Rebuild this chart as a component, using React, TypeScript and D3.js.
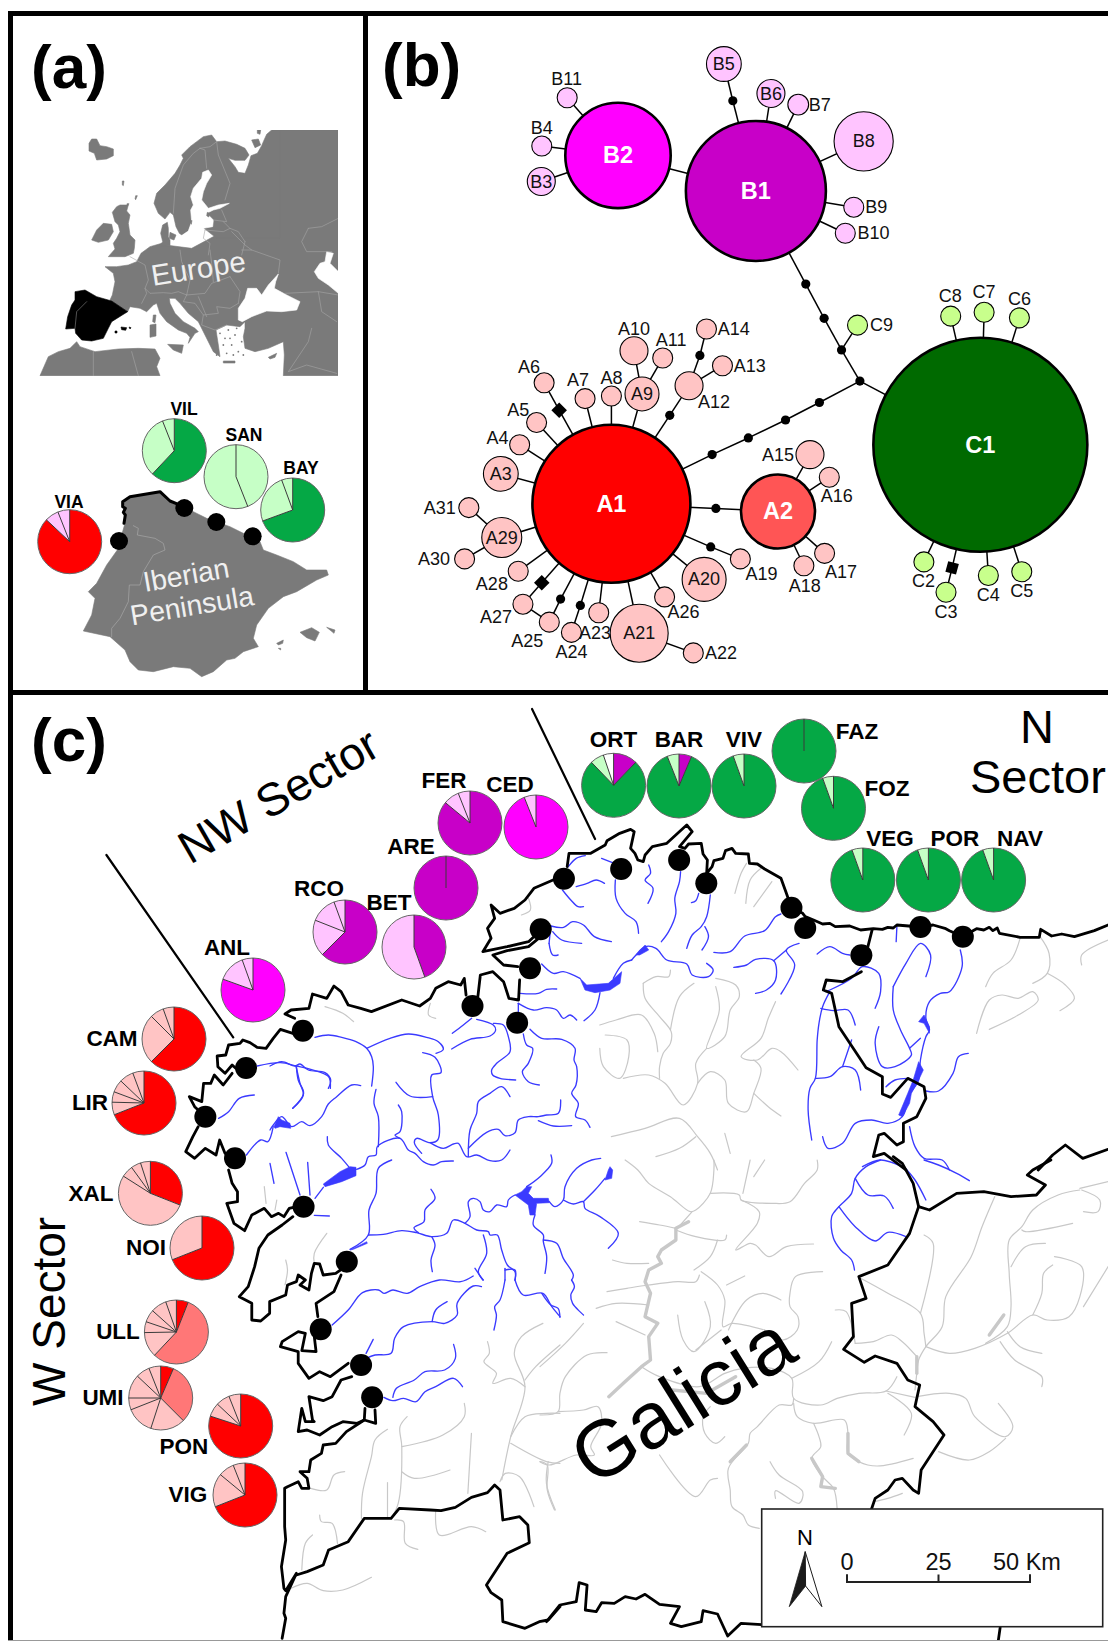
import React from "react";
import * as d3 from "d3";

const W = 1108, H = 1641;
const FONT = "'Liberation Sans', Arial, Helvetica, sans-serif";

// digitising sheets: each list of outline numbers below was read on one sheet
type Sheet = { x: d3.ScaleLinear<number, number>; y: d3.ScaleLinear<number, number> };
const sheet = (x0: number, y0: number, sx: number, sy: number): Sheet => ({
  x: d3.scaleLinear().domain([0, 1000]).range([x0, x0 + 1000 / sx]),
  y: d3.scaleLinear().domain([0, 1000]).range([y0, y0 + 1000 / sy]),
});
const sE = sheet(35, 125, 3, 3), sI = sheet(30, 395, 3, 3), sM = sheet(270, 960, 3, 3);
const sA = sheet(85, 125, 3, 3), sB = sheet(150, 125, 3, 3), sC = sheet(130, 250, 3, 3);
const sNW = sheet(0, 690, 2.8, 3), sNE = sheet(540, 690, 2.76, 3);
const sSW = sheet(0, 1160, 2.8, 3), sSE = sheet(540, 1160, 2.76, 3);
const sNet = sheet(370, 20, 2.125, 2.34);

const pairs = (a: number[]) => d3.range(0, a.length - 1, 2).map((i) => [a[i], a[i + 1]] as [number, number]);
const pathOf = (s: Sheet, a: number[], close = false, smooth = false) =>
  (d3.line<[number, number]>().x((d) => s.x(d[0])).y((d) => s.y(d[1])).curve(close ? d3.curveLinearClosed : smooth ? d3.curveCatmullRom.alpha(0.5) : d3.curveLinear))(pairs(a)) as string;

// ---------- panel (a): Europe ----------
const europeLand = [910,15,715,15,640,160,600,300,470,370,392,360,380,355,345,365,318,385,305,410,280,420,245,425,210,425,235,445,240,470,232,510,225,525,278,560,285,545,315,550,335,560,355,540,365,535,375,565,395,590,430,615,455,625,465,637,460,655,480,625,490,620,480,610,445,590,420,565,405,535,403,520,420,520,435,535,460,565,490,590,505,620,520,650,535,680,555,695,550,660,543,615,575,600,615,605,630,590,630,610,625,635,630,670,660,680,700,670,745,650,748,690,745,752,910,752];
const africaLand = [15,752,40,695,70,680,105,670,125,650,135,665,180,680,250,672,310,670,360,672,375,700,365,725,375,752];
const smallIslandsE = [[398,658,445,660,440,685,415,675],[565,708,600,708,600,714,565,714],[700,697,725,685,720,697,705,702]];
const northLand = [390,15,365,15,350,28,340,50,335,62,322,85,303,92,295,120,285,145,265,142,255,125,235,100,255,106,285,106,297,90,285,70,260,58,225,48,200,50,185,30,160,35,140,50,120,65,95,90,100,100,90,120,75,145,45,180,20,205,12,235,25,265,45,282,60,262,70,270,78,305,88,325,95,330,115,318,125,290,150,300,200,340,390,340];
const northIslands = [[322,15,332,15,330,28,322,25],[305,45,325,42,332,60,315,68],[52,292,38,300,32,325,38,350,30,362,60,362,60,345,55,335,55,310],[60,322,78,330,72,345,58,340]];
const balticSea = [175,135,158,142,155,160,130,190,122,215,130,240,122,255,125,290,115,318,95,332,88,330,85,345,100,360,130,360,155,345,160,310,188,305,190,285,170,265,190,255,210,250,238,235,205,240,175,250,155,225,160,200,170,175,185,150];
const balticIslands = [[172,262,180,266,176,276,170,272],[120,290,126,286,124,298]];
const westIslands = [
  [12,55,20,42,35,42,45,62,65,65,85,72,85,92,65,102,35,105,28,85,12,78],
  [105,240,130,240,125,258,135,270,130,295,135,330,150,345,148,370,145,385,120,395,70,395,90,372,85,355,95,340,105,320,100,300,90,290,82,262,95,245],
  [20,345,35,315,55,295,80,298,85,320,70,345,40,352],
  [112,168,117,168,115,182,112,180],[152,212,157,212,152,224,150,222],[126,236,132,236,130,240,126,240],
];
const medIslands = [[70,195,78,195,75,218,68,215],[60,225,78,222,78,258,60,262]];
const europeSeas = [
  [610,585,610,550,630,520,638,490,665,490,680,510,700,480,730,447,722,470,718,490,755,510,795,530,785,555,740,560,695,558,650,575,622,590],
  [875,380,895,385,885,415,910,440,910,505,880,480,850,460,838,440,855,415,870,410],
];
const aegeanSpecks = [570,640,590,660,600,630,610,680,575,685,555,625,580,615,620,650,595,690,565,660,605,610,585,640,625,690,545,690];
const spainBlack = [120,500,150,495,185,515,230,528,278,560,262,570,230,590,220,610,205,640,170,648,140,645,122,625,120,610,92,612,98,575,110,540,120,525];
const balearicBlack = [[240,618,246,618,246,624,240,624],[258,606,275,608,272,616,260,614],[282,606,288,608,285,612]];
const bordersB = [[70,265,75,190,100,120,130,85,150,70],[150,70,165,75,170,130],[150,70,180,65,200,50],[200,50,205,90,240,175,225,225],[165,315,220,320,240,310,265,320,285,350],[190,285,230,290,215,255],[240,310,220,290],[165,315,160,340,180,355,175,390],[285,350,275,390]];
const bordersC = [[45,115,60,130,100,128,125,130,145,125,170,135,225,130,245,100,300,80],[170,135,160,155,195,160,220,195,265,190,260,170,300,175,325,160],[205,140,230,200],[220,195,215,225,255,240,290,225],[0,20,45,45,55,90,45,115,50,130,35,160],[300,80,330,125,325,160],[150,0,155,35,180,90,170,135],[240,0,245,40,250,95]];
const bordersE = [[175,680,175,752],[290,680,310,752],[830,610,820,650,760,740,815,720,905,745],[820,310,800,350,815,380,890,380],[910,280,860,305,820,310],[620,375,650,375,735,405,730,445],[590,320,630,360,650,375],[750,505,850,500,910,510],[850,500,860,560,905,590]];
const spainBorder = [155,530,125,560,120,610];

// ---------- panel (a): Iberian Peninsula ----------
const iberiaLand = [280,318,300,305,345,298,390,290,420,318,445,330,490,350,530,370,600,395,640,415,690,440,700,465,740,480,790,500,830,525,890,525,895,540,860,555,800,590,760,605,715,640,680,690,670,730,685,755,640,770,615,790,590,795,550,830,515,845,480,820,430,815,370,830,325,825,300,800,285,765,240,725,160,708,185,660,195,610,175,590,200,565,230,510,262,465,285,385];
const iberiaIslands = [[810,712,845,698,868,712,855,738,830,728],[890,697,915,705,912,715,900,705],[740,745,760,735,758,745,745,750],[745,760,752,760,752,765]];
const iberiaBorder = [310,392,325,400,322,420,375,430,400,445,405,465,370,480,340,530,330,570,298,570,295,620,270,670,245,700,245,725];
const iberiaCoast = [282,385,286,360,280,352,286,340,278,335,278,320,300,305,345,298,390,290,420,318,445,328];
const iberiaDots = [267,438,463,339,559,381,668,424];

// ---------- panel (b): haplotype network ----------
const netNames = ["A1","A2","B1","B2","C1","B5","B6","B7","B8","B9","B10","B11","B4","B3","C8","C7","C6","C9","C2","C3","C4","C5","A6","A5","A4","A3","A31","A29","A30","A28","A27","A25","A24","A23","A21","A22","A26","A20","A19","A18","A17","A16","A15","A12","A13","A14","A9","A10","A11","A8","A7"];
const netX = [513,867,820,527,1297,752,852,910,1049,1028,1010,419,365,364,1234,1305,1380,1036,1177,1224,1314,1385,370,354,318,278,210,280,201,315,325,381,428,486,572,687,626,710,787,922,966,976,935,678,749,715,578,561,622,513,457];
const netY = [1132,1150,400,317,994,103,172,198,284,438,499,182,295,378,693,684,697,714,1268,1339,1300,1291,849,942,994,1062,1141,1211,1261,1290,1367,1409,1433,1387,1435,1481,1350,1309,1261,1277,1248,1070,1017,856,809,723,875,774,791,880,886];
const netSize = [79,37,70,52.7,107,17.4,14,10.4,29.6,10,10,10,10,14,10,10,10,10,10,10,10,10,10,10,10,17.4,10,20,10,10,10,10,10,10,29,10,10,22,10,10,10,10,14,14,10,10,17,14,10,10,10];
const junctionNames = ["j1","j2","j3","j4","k1","k2","k3","k4","m1","m2","m3","m4","m5","m6","m7"];
const junctionX = [926,965,1002,1041,955,883,804,727,771,735,724,637,701,405,447];
const junctionY = [618,698,772,845,895,936,978,1017,189,1143,1233,925,785,1355,1370];
const squareNames = ["s1","s2","s3"];
const squareX = [402,365,1237];
const squareY = [913,1317,1282];
const netEdges = "B1-B2 B2-B11 B2-B4 B2-B3 B1-m1 m1-B5 B1-B6 B1-B7 B1-B8 B1-B9 B1-B10 B1-j1 j1-j2 j2-j3 j3-j4 j3-C9 j4-C1 j4-k1 k1-k2 k2-k3 k3-k4 k4-A1 C1-C8 C1-C7 C1-C6 C1-C2 C1-s3 s3-C3 C1-C4 C1-C5 A1-m2 m2-A2 A2-A15 A2-A16 A2-A17 A2-A18 A1-m3 m3-A19 A1-A20 A1-A21 A21-A22 A1-A26 A1-A23 A1-m7 m7-A24 A1-m6 m6-A25 A25-A27 A27-s2 s2-A1 A1-A28 A1-A29 A29-A31 A29-A30 A1-A3 A1-A4 A1-A5 A1-s1 s1-A6 A1-A7 A1-A8 A1-A9 A9-A10 A9-A11 A1-m4 m4-A12 A12-A13 A12-m5 m5-A14".split(" ");
const netOuterLabels: [string, number, number][] = [["B11",418,138],["B4",365,252],["B7",956,198],["B9",1076,438],["B10",1070,499],["C8",1233,646],["C7",1305,636],["C6",1380,652],["C9",1087,714],["C2",1176,1312],["C3",1224,1385],["C4",1314,1345],["C5",1385,1335],["A14",773,722],["A13",807,809],["A10",561,722],["A11",640,748],["A12",731,893],["A6",338,812],["A7",442,842],["A8",513,837],["A5",315,912],["A4",271,977],["A31",148,1141],["A30",136,1261],["A28",259,1320],["A27",268,1396],["A25",334,1452],["A24",428,1480],["A23",478,1434],["A22",746,1481],["A26",666,1385],["A19",832,1296],["A18",924,1324],["A17",1001,1291],["A16",992,1115],["A15",867,1017]];
const netInnerLabels = ["B5","B6","B3","B8","A3","A29","A21","A20","A9"];

// ---------- pies (population haplotype shares, clockwise from north) ----------
const HAP: Record<string, string> = { R: "#ff0000", P: "#ffc4c4", M: "#ff7777", G: "#05a845", L: "#c6ffc6", U: "#c800c8", V: "#ffc4ff", K: "#ff00ff", W: "#ffffff" };
const popNames = ["VIA","VIL","SAN","BAY","FER","CED","ARE","RCO","BET","ANL","CAM","LIR","XAL","NOI","ULL","UMI","PON","VIG","ORT","BAR","VIV","FAZ","FOZ","VEG","POR","NAV"];
const popHaps = ["RVV","GLL","LL","GLL","UVV","KV","U","UVVV","UV","KVV","RPPP","RPPPPP","RPPPP","RP","RMPPPPP","RMPPPPPP","RPPP","RPPP","UGLW","UGL","GL","G","GL","GL","GL","GL"];
const popValues = [[.87,.07,.06],[.62,.32,.06],[.44,.56],[.694,.25,.056],[.86,.08,.06],[.94,.06],[1],[.625,.185,.134,.056],[.445,.555],[.805,.14,.055],[.625,.25,.07,.055],[.69,.064,.053,.064,.072,.057],[.31,.53,.06,.05,.05],[.69,.31],[.06,.56,.127,.055,.064,.08,.054],[.065,.31,.175,.14,.06,.12,.07,.06],[.80,.07,.07,.06],[.69,.17,.08,.06],[.122,.756,.07,.052],[.064,.876,.06],[.945,.055],[1],[.945,.055],[.945,.055],[.945,.055],[.945,.055]];
const popCx = [69.7,174.3,236,292.7,470,536,446,345,414,253,174,144,150.4,202,176.4,160.7,240.7,245,613.6,679,744,804,833.5,862.8,928.4,993.6];
const popCy = [541.7,450.7,476.7,510,823,827,888,932,947,990,1039,1103,1193.3,1248,1332,1398,1426,1495,785.3,786,786,751,808.3,880,880,880];
const popLx = [69,184,244,301,444,510,411,319,389,227,112,90,91,146,118,103,184,188,613.5,679,744,857,887,890,955,1020];
const popLy = [502,409,435,468,780,784,846,888,902,947,1038,1102,1193,1247,1331,1397,1446,1494,739,739,739,731,788,838,838,838];

// ---------- panel (c): map ----------
const coastNE = [1568,705,1530,722,1475,740,1440,732,1412,738,1382,718,1378,742,1325,742,1268,730,1262,714,1250,722,1240,712,1225,720,1205,716,1190,725,1167,740,1130,722,1120,716,1085,705,1050,711,985,705,975,714,960,712,945,718,920,716,885,720,855,708,815,710,800,700,780,702,755,690,732,680,725,670,694,653,680,610,665,565,620,537,600,522,578,520,575,492,540,490,530,475,512,482,505,505,480,512,475,530,460,550,462,510,450,492,445,460,410,462,400,475,385,470,420,425,405,405,380,430,350,460,310,470,290,495,285,515,270,510,262,490,250,475,260,425,250,418,220,430,185,452,180,465,140,490,80,490,75,530];
const coastNW = [1560,565,1495,595,1470,630,1440,655,1400,670,1375,645,1385,685,1365,715,1375,745,1352,785,1420,770,1480,755,1500,735];
const coastNW2 = [1514,740,1480,770,1420,782,1380,795,1410,825,1450,830];
const coastNW3 = [1455,870,1452,930,1425,925,1410,875,1380,845,1345,855,1338,920];
const coastNW4 = [1305,915,1300,865,1290,885,1255,875,1220,895,1205,925,1175,948,1125,930,1040,965,1010,955,975,945,955,905,935,888,915,925,875,912,865,955,815,960,798,972,825,985];
const coastNW5 = [820,1030,785,1018,765,1045,745,1075,720,1072,700,1058,680,1050,672,1060,640,1065,632,1095,608,1098,610,1130,630,1150,650,1125,660,1135];
const coastNW6 = [650,1150,625,1185,600,1155,590,1180,570,1180,565,1235,530,1220,545,1250,560,1265];
const coastNW7 = [555,1310,540,1340,520,1385,545,1405,575,1375,605,1395,615,1350,630,1390];
const coastSW = [640,30,650,70,665,95,665,125,635,130,655,190,685,212,705,165,740,145,760,170,780,160,795,170,810,145,830,140];
const coastSW2 = [820,170,790,195,750,225,725,265,713,320,695,380,670,410,705,430,705,480,730,483,755,460,755,425,800,405,805,375,830,365,835,345,855,360,840,375,865,390,872,340,880,310,895,312,905,345,940,340,960,325];
const coastSW3 = [955,345,935,395,885,430,890,470];
const coastSW4 = [880,530,885,575,845,572,855,520,835,515,790,545,785,560,835,575,835,610,865,655,895,635,925,650,975,610];
const coastSW5 = [985,650,955,660,930,710,905,722,865,710,875,780,880,785,855,785,845,745,835,815,860,810,895,825,930,800,960,785,1000,790,1020,780,1022,745];
const coastSW6 = [1050,750,1052,790,1020,780,970,815,940,850,905,855,900,880,870,900,865,935,840,935,860,955,865,985,845,985,835,965,805,980,797,985,797,1100,800,1140,788,1220,795,1285,800,1292,830,1240,800,1310,795,1360,800,1375,790,1435];
const borderSW = [830,1245,860,1235,905,1215,920,1170,975,1145,1020,1075,1095,1075,1118,1045,1205,1050,1235,1052,1275,1042,1320,1012,1365,998,1385,975,1400,990,1408,1080,1455,1070,1478,1095,1482,1148,1420,1180,1362,1275,1375,1298,1405,1320,1408,1385,1470,1405,1510,1385,1535,1380,1568,1340];
const borderSE = [18,1385,55,1335,100,1325,108,1268,130,1275,125,1350,155,1355,170,1328,205,1330,235,1310,265,1317,290,1303,330,1333,385,1340,360,1390,390,1400,445,1385,450,1352,490,1362,518,1428,555,1390,612,1394];
const borderSE2 = [915,1047,925,1015,960,990,980,960,1000,955,1030,990,1045,1000,1052,930,1115,825,1085,785,1035,740,1048,675,1015,660,985,610,925,588,895,607,838,568,865,530,860,430,900,415,880,350,960,315,1020,220,1045,140,1030,70,1000,10,975,-10];
const borderSE3 = [1270,1403,1265,1441];
const borderSE4 = [1045,140,1075,150,1150,100,1225,95,1300,110,1370,105,1395,75,1345,45,1360,30,1410,0];
const borderNE = [1010,1440,950,1390,920,1400,935,1335,950,1330,985,1365,1003,1355,1003,1300,1040,1280,1065,1225,1060,1190,1015,1165,968,1222,945,1212,945,1160,900,1133,880,1100,825,1010,805,910,782,900,790,870,835,875,887,845];
const borderNE2 = [905,770,917,718];
const borderNE3 = [1375,1440,1415,1395,1450,1365,1498,1405,1568,1378];
const sectorLineNW = [298,495,653,1042];
const sectorLineNE = [-22,57,152,447];

const dotsNW = [848,1022,689,1134,575,1280,658,1405,1323,948,1448,998,1484,835,1514,718];
const dotsNE = [66,566,224,537,384,510,459,580,694,653,732,714,887,796,1050,711,1167,740];
const dotsSW = [850,140,971,305,898,508,1011,615,1042,712];

const riversM = [
  [135,232,175,225,215,232,258,245,290,265,305,290,310,320,305,378],
  [290,265,360,235,415,222,470,232,505,245,520,268,498,280],
  [458,278,495,292,513,338,485,345,488,410,505,465,503,540,480,548,440,535,433,548,455,580],
  [378,367,420,408,488,410],
  [0,318,35,305,75,318,90,312,115,330,165,338,182,360,175,385],
  [78,318,90,370,100,405,68,445],
  [272,377,245,375,200,410,175,432,155,470,120,497,95,485,65,500,35,470,10,495,0,510],
  [318,388,312,430,325,470,325,560],[385,435,395,455,390,515,375,525,390,535],[172,530,175,555,215,595,240,625],
  [260,628,285,615,295,590,318,585,322,560,390,535,415,570,435,580,460,605,490,615,515,605,550,603],
  [480,548,520,565,550,552,565,550,590,590,620,585,660,602,695,600,720,570],
  [595,590,600,510,620,460,625,425,660,400,695,380,720,410],
  [595,565,650,517,685,508,705,527,735,518,745,480,775,470,805,470,830,465,865,460,872,420],
  [805,482,850,498,905,497],[135,715,160,682],[48,577,90,705],[113,607,120,705],[0,610,12,670],[133,766,178,768],
  [365,600,325,625,318,700,297,750,295,825,240,868],
  [295,825,340,823,395,812,440,818,485,830,530,820,550,780,585,790,620,810,655,815,660,825,682,825,695,870,712,915,735,935,735,960],
  [483,688,495,715,465,750,462,785,432,803,445,818],[485,830,495,855,483,900,487,935],
  [585,790,600,770,595,725,610,715,630,725,640,750,660,755,680,735,710,740,715,720,735,705],
  [770,680,810,650,845,610,843,585],[838,725,855,740,880,720,885,680,920,625,965,600,992,595],
  [880,720,910,732,940,725,945,745,990,770,1045,820,1015,865],[940,725,975,690,1005,655],
  [795,765,790,795,820,825,820,845,830,890,825,940],[820,840,860,850,880,895,910,945,905,960],
  [640,825,650,880,625,935,640,960],[705,925,705,960],[705,930,735,930,735,960],
  [815,12,850,40,880,35,930,55],[1030,55,1060,10,1085,0],[990,98,975,150,942,182],
  [750,100,805,100,830,88,860,87],[745,130,790,150,830,143,860,150,880,175,900,165,920,180],[745,130,745,155],
  [547,220,580,195,605,175],[545,267,600,238,660,228,677,210,670,195,620,178],
  [670,190,700,195,715,230,720,275,680,310,665,330,668,345,690,355,737,360],
  [760,222,770,255,788,265,775,310,757,335,775,365,808,375],
  [780,208,815,235,875,238,915,265,912,300,920,320,918,375,905,400,925,430,917,470,945,480,960,502],
];
const lakesM = [
  [12,500,25,470,35,480,60,490,62,505,30,500,15,505],
  [258,622,258,647,215,665,165,680,160,672,210,635,240,620],
  [735,705,755,695,770,680,785,680,775,700,790,715,835,715,838,728,800,730,795,765,780,765,775,735],
  [1020,620,1028,630,1025,655,1005,660,1015,630],
  [930,55,950,75,1015,70,1055,35,1050,70,1020,90,975,98,945,90],
  [240,870,290,845,292,850,250,868],
];
const riversNW = [
  [720,1128,785,1118,830,1128,870,1138,920,1160,925,1195],[830,1130,835,1170,850,1210,820,1255],
  [612,1285,640,1265,670,1225,712,1215],[690,1395,730,1350,750,1355,765,1310],
];
const riversSW = [
  [1325,348,1290,365,1230,360,1175,380,1140,400,1100,390,1075,400,1060,390,1015,398,975,450,930,495],
  [1348,380,1325,378,1280,430,1280,465,1245,490,1210,485,1130,500,1105,535,1095,580,1050,585,1025,595],
  [1252,425,1220,450,1210,485],[1045,538,1025,580],
  [1270,553,1275,595,1245,630,1190,635,1160,660,1110,685,1100,712],
  [1295,680,1270,655,1220,680,1190,695,1165,725,1130,715,1100,722,1075,712],
  [1352,360,1330,325],[1414,360,1400,420,1385,440,1390,465,1383,510],
  [1442,360,1465,405,1520,400,1545,440,1568,470],
];
const riversNE = [
  [78,530,100,505,125,497],[170,505,200,518],[208,570,210,625,235,670,265,695,272,730],[62,600,85,630,105,650,120,650],
  [100,590,130,580,155,570,178,580],[300,525,305,550,290,570,312,595,298,640],[388,545,385,575,372,625,375,670,355,725,335,755],
  [470,615,460,680,445,710,420,735,405,775],[455,710,465,740,447,780],[438,610,430,632,418,638],
  [30,708,65,712,90,695,120,705,150,740,197,755],[35,725,60,750,115,760],[25,760,35,795,50,795],[30,708,25,760],
  [253,810,265,795,290,770,320,775,350,810,405,822,420,855,465,860,478,840,460,820],
  [480,787,525,785,565,738,620,722,650,680,665,672],[535,832,570,825,595,808,645,812,650,870,625,900,595,910],
  [715,760,680,780,703,825,665,912],[680,780,645,812],[765,792,800,770,835,790,855,795],
  [787,905,800,900,860,865,890,830,935,850,940,905,925,955],
  [800,905,780,950,770,1000,765,1050,760,1165,745,1195,740,1260,750,1350],
  [775,955,810,962,850,960,870,1005],[760,1165,800,1160,835,1130,870,1140,885,1200],[835,1130,860,1050],
  [975,890,1010,820,1050,760,1078,795,1065,860],
  [975,890,975,960,995,1020,1020,1075,1025,1095,980,1130,945,1130,925,1060,935,1010],
  [1160,780,1165,830,1130,905,1105,910,1075,935,1065,985,1075,1020,1065,1040,1050,1110,1045,1170,1020,1215,1000,1280,960,1300,915,1290,870,1300,835,1360,795,1375,780,1340],
  [1065,1203,1100,1203,1140,1150,1155,1100,1182,1090],[1020,1075,1050,1045],[985,710,983,755],[955,1190,980,1170,1015,1165],
  [1020,1310,1035,1370,1060,1405,1110,1410,1130,1440],[890,1430,940,1410,1000,1430],
];
const lakesNE = [
  [1045,995,1060,975,1075,1010,1075,1030,1060,1000],
  [1045,1115,1058,1140,1045,1170,1025,1210,1020,1240,1000,1280,990,1275,1015,1210,1030,1170],
  [265,795,290,765,300,780,275,795],
];
const riversSE = [
  [87,360,95,380,85,405,90,430,120,465],[5,400,30,435,50,445,55,472],
  [940,0,900,20,870,55,860,100,825,140,805,170,810,235,830,270,860,300,868,330],
  [870,55,905,105,950,108,975,145],[825,140,870,200,925,243,960,217,1010,230],
  [1060,0,1100,15,1150,40,1185,62],[1000,15,1035,60,1065,120],
];
const greysNE = [
  [285,880,320,860,355,860,360,840],[285,880,290,925,330,980,362,1025,360,1060,340,1090,330,1130,330,1165],[425,880,385,920,360,1020],
  [165,1005,210,990,280,975,315,1030,325,1085],[180,1035,240,1050,245,1100,220,1165,175,1130,165,1075],
  [485,890,495,960,470,1040,460,1075,510,1040,525,960,550,920,540,885,485,865],
  [650,935,630,985,610,1045,555,1100,600,1110,640,1075,665,1085,712,1140],
  [460,1075,430,1120,435,1180,395,1245,345,1180,300,1155,230,1165],
  [435,1180,470,1145,510,1170,520,1240,570,1265,590,1210,610,1135,590,1110],[590,1210,630,1250,665,1278],
  [197,1340,290,1315,385,1285,435,1340,470,1390,490,1440],[510,1330,525,1390],[320,1400,385,1375,430,1340],
  [538,610,555,550,570,520],[568,640,580,570,610,535],[590,650,640,575],
  [1230,890,1250,850,1300,810,1325,745],[1380,740,1405,790,1400,850,1360,880],[1400,850,1450,885,1475,925,1435,962],
  [1205,1030,1240,930,1275,915,1320,925,1360,905,1375,930,1320,975,1240,1018],[1495,825,1495,795,1568,750],
];
const greysSE = [
  [235,0,270,30,300,70,360,110,415,155,430,150,470,100,480,30,480,0],[470,100,550,105,555,120,640,130,690,125,730,70,765,30,765,0],
  [555,120,605,155,600,190,540,270,580,250,595,255,632,290,680,260,755,252],[580,0,560,100],[620,0,590,50],
  [275,185,330,195,375,205],[375,210,430,230,510,240,515,225],[490,240,470,290,425,330],[420,155,375,210],
  [200,300,240,310,300,310],[185,395,240,385,300,375,380,365,430,365,440,345],[445,335,490,375,510,420,505,500,530,490,620,510],[515,375,565,348],
  [155,445,210,430,300,435],[210,485,290,525],[120,490,70,550,0,620],[185,578,130,585,70,650,55,700,50,755,0,765],
  [50,755,120,750,160,740,170,790,140,860,150,885,100,885,25,915,0,905],
  [280,620,330,650,440,680,510,640,560,625,640,625,695,655,700,715,775,735,820,715,880,700,955,693,985,650],
  [700,715,695,735,660,735,600,800,580,820,575,850,520,925,525,990,530,1040,560,1065,575,1095,605,1105],
  [700,730,710,770,755,790,840,780,850,820,850,880,880,905,930,918,1030,895],[755,790,770,830,775,860,750,895,780,950,810,985,820,1045],
  [380,465,395,540,425,575,470,500,455,425],[430,570,500,510],[780,335,705,350,690,400,690,440,712,470,710,510,670,540,620,510],
  [520,510,570,420,615,400,665,420],[805,545,770,605,695,655],[510,830,485,850,455,820,450,770,470,740],
  [330,885,430,1010,470,960,490,955],[0,905,20,915,20,990,40,1050],[635,905,660,945,725,995,715,1030,650,992,650,1015],
  [1050,460,1085,250,1060,225],[1255,110,1220,200,1190,290,1120,410,1110,500,1065,560,1045,600,1040,640,1035,690],
  [885,355,960,400,1050,460,1060,520,1065,560],[870,550,920,545,970,525,1000,545,1040,590],[815,450,845,455,870,550],
  [1065,560,1130,580,1200,565,1290,520,1360,465,1400,480,1460,470,1490,410,1495,320,1420,290],[1330,210,1340,215,1470,190],
  [1490,90,1430,105,1360,150,1330,200,1295,240,1295,340,1300,440,1290,500,1230,550],[1395,250,1340,260,1300,320],[1415,315,1390,340,1385,400,1360,465],
  [1490,85,1568,65],[1495,90,1545,120,1540,155,1500,155],[1290,515,1325,560,1385,580],[1270,545,1310,600,1385,650,1385,680],
  [1040,710,1130,700,1175,715,1200,770,1285,830,1305,800,1265,730],[960,700,1025,760,1005,825],[955,693,1035,712],[1285,835,1240,875,1185,900,1100,875],
  [920,1025,960,1015,1000,1000],[1500,440,1568,320],
];
const greyThickSE = [
  [410,185,375,205,375,240,335,270,325,290,335,310,300,330,290,365,305,400,290,470,325,490,300,530,305,600,280,620,230,670,190,710],
  [570,855,525,905],[850,820,850,880,880,905],[750,895,780,950,775,980,815,985],[1280,465,1240,525],[1040,590,1040,640],[365,690,460,700,540,650],
];
const greysSW = [
  [740,80,745,130],[775,120,770,150],[915,220,880,280,880,310],[800,300,805,330,798,375],
  [1085,808,1050,840,1040,890,1015,1000,1012,1075],[1140,770,1120,800,1125,860,1115,1030,1095,1075],[1125,860,1240,825,1300,770,1300,730],
  [1125,935,1160,955,1260,930],[1085,968,1085,1070],[1320,820,1310,1000],[965,935,935,945,915,990,870,985],[895,1065,900,1085,930,1090,945,1150],
  [875,1125,855,1150,845,1230],[1105,1080,1130,1085,1135,1150,1170,1168],[1220,1050,1230,1125,1320,1100,1360,1115],
  [815,1285,860,1270,905,1292,960,1290,1040,1252],[1400,965,1415,940,1455,950,1495,1040],[1520,490,1460,530,1440,580,1470,680,1430,830,1405,960],
  [1365,545,1370,580,1355,605,1390,640,1380,670,1430,655,1470,680],[1568,555,1500,620,1470,660],[1430,830,1470,770,1530,760,1568,760],
  [1430,850,1530,905,1568,910],[1535,905,1530,970,1555,1050],
];
const greysNW = [[1480,625,1485,660,1460,675],[910,950,960,970,990,995],[1205,940,1200,975,1220,985]];

const compassDark = [732,1175,688,1340,733,1278];
const compassLight = [732,1175,778,1340,733,1278];
const scaleTicks = [0, 25, 50];

const km = d3.scaleLinear().domain([0, 50]).range([847, 1030]);

function Pie({ i }: { i: number }) {
  const r = 32, vals = popValues[i];
  const arcs = d3.pie<number>().sort(null)(vals);
  const arc = d3.arc<d3.PieArcDatum<number>>().innerRadius(0).outerRadius(r);
  return (
    <g transform={`translate(${popCx[i]},${popCy[i]})`}>
      {arcs.map((a, j) => <path key={j} d={arc(a) as string} fill={HAP[popHaps[i][j]]} />)}
      <circle r={r} fill="none" stroke="#666" strokeWidth={1} />
      {arcs.map((a, j) => (
        <line key={j} x1={0} y1={0} x2={r * Math.sin(a.startAngle)} y2={-r * Math.cos(a.startAngle)} stroke="#3a3a3a" strokeWidth={1} />
      ))}
    </g>
  );
}

const Lines = ({ s, list, color, w, smooth = false }: { s: Sheet; list: number[][]; color: string; w: number; smooth?: boolean }) => (
  <g fill="none" stroke={color} strokeWidth={w} strokeLinejoin="round" strokeLinecap="round">
    {list.map((a, i) => <path key={i} d={pathOf(s, a, false, smooth)} />)}
  </g>
);
const Fills = ({ s, list, color }: { s: Sheet; list: number[][]; color: string }) => (
  <g fill={color} stroke={color} strokeWidth={0.6}>
    {list.map((a, i) => <path key={i} d={pathOf(s, a, true)} />)}
  </g>
);
const Dots = ({ s, list, r, color = "#000" }: { s: Sheet; list: number[]; r: number; color?: string }) => (
  <g fill={color}>{pairs(list).map((p, i) => <circle key={i} cx={s.x(p[0])} cy={s.y(p[1])} r={r} />)}</g>
);

export default function App() {
  const nodePos: Record<string, [number, number]> = {};
  netNames.forEach((n, i) => (nodePos[n] = [sNet.x(netX[i]), sNet.y(netY[i])]));
  junctionNames.forEach((n, i) => (nodePos[n] = [sNet.x(junctionX[i]), sNet.y(junctionY[i])]));
  squareNames.forEach((n, i) => (nodePos[n] = [sNet.x(squareX[i]), sNet.y(squareY[i])]));
  const bigFill: Record<string, string> = { A1: "#ff0000", A2: "#ff5555", B1: "#c800c8", B2: "#ff00ff", C1: "#006a00" };
  const smallFill = (n: string) => (n[0] === "A" ? "#ffc4c4" : n[0] === "B" ? "#ffc4ff" : "#c8ff8c");
  const blackCoast: [Sheet, number[]][] = [
    [sNE, coastNE],[sNW, coastNW],[sNW, coastNW2],[sNW, coastNW3],[sNW, coastNW4],[sNW, coastNW5],[sNW, coastNW6],[sNW, coastNW7],
    [sSW, coastSW],[sSW, coastSW2],[sSW, coastSW3],[sSW, coastSW4],[sSW, coastSW5],[sSW, coastSW6],[sSW, borderSW],
    [sSE, borderSE],[sSE, borderSE2],[sSE, borderSE3],[sSE, borderSE4],[sNE, borderNE],[sNE, borderNE2],[sNE, borderNE3],
  ];
  const blue = "#3a3aff", grey = "#c8c8c8", land = "#7a7a7a", line = "#a6a6a6";
  return (
    <svg width={W} height={H} viewBox={`0 0 ${W} ${H}`} style={{ position: "absolute", left: 0, top: 0, display: "block", background: "#fff" }} fontFamily={FONT}>
      {/* panel a */}
      <clipPath id="eu"><rect x={35} y={130} width={303} height={246} /></clipPath>
      <g clipPath="url(#eu)">
        <Fills s={sE} list={[europeLand, africaLand, ...smallIslandsE]} color={land} />
        <Fills s={sB} list={[northLand, ...northIslands]} color={land} />
        <Fills s={sE} list={europeSeas} color="#ffffff" />
        <Fills s={sB} list={[balticSea]} color="#ffffff" />
        <Fills s={sB} list={balticIslands} color={land} />
        <Fills s={sA} list={westIslands} color={land} />
        <Fills s={sC} list={medIslands} color={land} />
        <Dots s={sE} list={aegeanSpecks} r={0.9} color={land} />
        <Lines s={sB} list={bordersB} color={line} w={0.6} />
        <Lines s={sC} list={bordersC} color={line} w={0.6} />
        <Lines s={sE} list={bordersE} color={line} w={0.6} />
        <Fills s={sE} list={[spainBlack, ...balearicBlack]} color="#000" />
        <Lines s={sE} list={[spainBorder]} color="#888" w={0.6} />
      </g>
      <text transform={`translate(153,286) rotate(-9.2)`} fontSize={29.5} fill="#f0f0f0">Europe</text>
      <Fills s={sI} list={[iberiaLand, ...iberiaIslands]} color={land} />
      <Lines s={sI} list={[iberiaBorder]} color={line} w={0.7} />
      <Lines s={sI} list={[iberiaCoast]} color="#000" w={3} />
      <Dots s={sI} list={iberiaDots} r={9} />
      <text transform={`translate(145,592) rotate(-10)`} fontSize={28.4} fill="#f0f0f0">Iberian</text>
      <text transform={`translate(132,625.5) rotate(-9.5)`} fontSize={28.4} fill="#f0f0f0">Peninsula</text>

      {/* panel b */}
      <g stroke="#000" strokeWidth={1.5}>
        {netEdges.map((e) => {
          const [a, b] = e.split("-");
          return <line key={e} x1={nodePos[a][0]} y1={nodePos[a][1]} x2={nodePos[b][0]} y2={nodePos[b][1]} />;
        })}
      </g>
      {junctionNames.map((n) => <circle key={n} cx={nodePos[n][0]} cy={nodePos[n][1]} r={4.6} fill="#000" />)}
      {squareNames.map((n) => (
        <rect key={n} x={-5.5} y={-5.5} width={11} height={11} fill="#000" transform={`translate(${nodePos[n][0]},${nodePos[n][1]}) rotate(${n === "s3" ? 15 : 45})`} />
      ))}
      {netNames.map((n, i) => (
        <circle key={n} cx={nodePos[n][0]} cy={nodePos[n][1]} r={netSize[i]} fill={bigFill[n] ?? smallFill(n)} stroke="#000" strokeWidth={bigFill[n] ? 2.6 : 1.1} />
      ))}
      {Object.keys(bigFill).map((n) => (
        <text key={n} x={nodePos[n][0]} y={nodePos[n][1]} textAnchor="middle" dominantBaseline="central" fontWeight="bold" fontSize={23.5} fill="#fff">{n}</text>
      ))}
      <g fontSize={18} fill="#111" textAnchor="middle" dominantBaseline="central">
        {netInnerLabels.map((n) => <text key={n} x={nodePos[n][0]} y={nodePos[n][1]}>{n}</text>)}
        {netOuterLabels.map(([n, x, y]) => <text key={n} x={sNet.x(x)} y={sNet.y(y)}>{n}</text>)}
      </g>

      {/* panel c */}
      <clipPath id="cc"><rect x={13} y={695} width={1095} height={946} /></clipPath>
      <g clipPath="url(#cc)">
        <Lines s={sNE} list={greysNE} color={grey} w={1.2} smooth />
        <Lines s={sSE} list={greysSE} color={grey} w={1.2} smooth />
        <Lines s={sSE} list={greyThickSE} color={grey} w={3.4} />
        <Lines s={sSW} list={greysSW} color={grey} w={1.2} smooth />
        <Lines s={sNW} list={greysNW} color={grey} w={1.2} smooth />
        <Lines s={sM} list={riversM} color={blue} w={1.35} smooth />
        <Lines s={sNW} list={riversNW} color={blue} w={1.35} smooth />
        <Lines s={sSW} list={riversSW} color={blue} w={1.35} smooth />
        <Lines s={sNE} list={riversNE} color={blue} w={1.35} smooth />
        <Lines s={sSE} list={riversSE} color={blue} w={1.35} smooth />
        <Fills s={sM} list={lakesM} color={blue} />
        <Fills s={sNE} list={lakesNE} color={blue} />
        {blackCoast.map(([s, a], i) => <Lines key={i} s={s} list={[a]} color="#000" w={2.8} />)}
        <Lines s={sNW} list={[sectorLineNW]} color="#000" w={2.2} />
        <Lines s={sNE} list={[sectorLineNE]} color="#000" w={2.2} />
        <Dots s={sNW} list={dotsNW} r={11} />
        <Dots s={sNE} list={dotsNE} r={11} />
        <Dots s={sSW} list={dotsSW} r={11} />
      </g>

      {popNames.map((n, i) => <Pie key={n} i={i} />)}
      {popNames.map((n, i) => (
        <text key={n} x={popLx[i]} y={popLy[i]} textAnchor="middle" dominantBaseline="central" fontWeight="bold" fontSize={i < 4 ? 17.5 : 22.5}>{n}</text>
      ))}

      <text transform="translate(190,865) rotate(-30)" fontSize={46}>NW Sector</text>
      <text x={1037} y={743} textAnchor="middle" fontSize={47}>N</text>
      <text x={970} y={793} fontSize={47}>Sector</text>
      <text transform="translate(65,1406) rotate(-90)" fontSize={46}>W Sector</text>
      <text transform="translate(697,1423) rotate(-32)" textAnchor="middle" fontSize={80}>Galicia</text>

      {/* legend */}
      <rect x={761.7} y={1509} width={341} height={117.7} fill="#fff" stroke="#222" strokeWidth={1.6} />
      <text x={805} y={1545} textAnchor="middle" fontSize={22}>N</text>
      <path d={pathOf(sSE, compassDark, true)} fill="#1a1a1a" stroke="#1a1a1a" strokeWidth={0.8} />
      <path d={pathOf(sSE, compassLight, true)} fill="#fff" stroke="#1a1a1a" strokeWidth={1} />
      <path d={`M${km(0)},1574.5V1582H${km(50)}V1574.5`} fill="none" stroke="#222" strokeWidth={2} />
      {scaleTicks.map((t) => <line key={t} x1={km(t)} x2={km(t)} y1={1574.5} y2={1582} stroke="#222" strokeWidth={2} />)}
      <g fontSize={23.5} fill="#111">
        <text x={km(0)} y={1570} textAnchor="middle">0</text>
        <text x={km(25)} y={1570} textAnchor="middle">25</text>
        <text x={1027} y={1570} textAnchor="middle">50 Km</text>
      </g>

      {/* frames */}
      <g fontWeight="bold" fontSize={62} fill="#000">
        <text x={31} y={88}>(a)</text>
        <text x={382} y={86}>(b)</text>
        <text x={31} y={761}>(c)</text>
      </g>
      <g stroke="#000" strokeWidth={5} fill="none">
        <line x1={8} y1={13.5} x2={W} y2={13.5} />
        <line x1={10.5} y1={11} x2={10.5} y2={H} />
        <line x1={365.5} y1={13} x2={365.5} y2={692} />
        <line x1={8} y1={692.5} x2={W} y2={692.5} />
      </g>
      <line x1={8} y1={1640.5} x2={W} y2={1640.5} stroke="#999" strokeWidth={1} />
    </svg>
  );
}
